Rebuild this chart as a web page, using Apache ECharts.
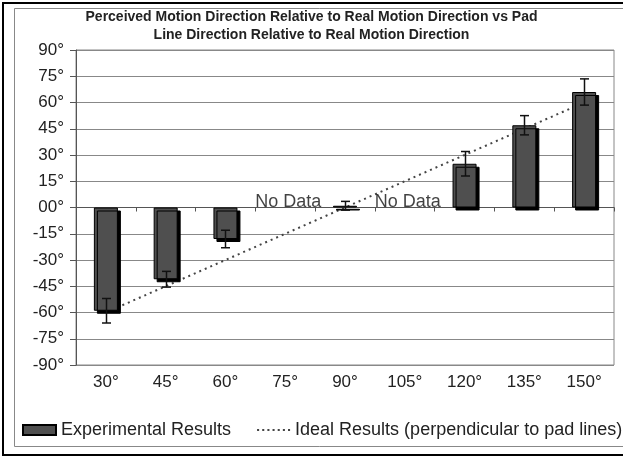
<!DOCTYPE html>
<html>
<head>
<meta charset="utf-8">
<script src="https://cdn.jsdelivr.net/npm/echarts@6/dist/echarts.min.js"></script>
<style>
  html, body { margin: 0; padding: 0; background: #fff; }
  #chart { width: 623px; height: 458px; }
</style>
</head>
<body>
<div id="chart"></div>
<script>
// Pad line direction relative to real motion direction (categories)
const angles = ['30°', '45°', '60°', '75°', '90°', '105°', '120°', '135°', '150°'];
// Mean perceived direction (degrees); null where no data was collected
const experimental = [-59, -41, -18, null, 1, null, 25, 47, 66];
// Half-length of the error bars (degrees)
const errorMargin = [7, 4.5, 5, null, 2.5, null, 7, 5.5, 7.5];
// Direction perpendicular to the pad lines
const ideal = [-60, -45, -30, -15, 0, 15, 30, 45, 60];
// Categories without measurements
const noDataAngles = ['75°', '105°'];
const noDataLabel = 'No Data';

const titleText = 'Perceived Motion Direction Relative to Real Motion Direction vs Pad\nLine Direction Relative to Real Motion Direction';
const expName = 'Experimental Results';
const idealName = 'Ideal Results (perpendicular to pad lines)';

const FONT = 'Liberation Sans, Arial, sans-serif';

// Dotted swatch for the ideal-line legend entry
const dottedIcon = 'path://M0,0h2v2h-2z M5,0h2v2h-2z M10,0h2v2h-2z M15,0h2v2h-2z M20,0h2v2h-2z M25,0h2v2h-2z M30,0h2v2h-2z';

const errorData = [];
experimental.forEach((v, i) => {
  if (v !== null && errorMargin[i] !== null) {
    errorData.push([i, v - errorMargin[i], v + errorMargin[i]]);
  }
});

const chart = echarts.init(document.getElementById('chart'), null, { renderer: 'canvas' });

chart.setOption({
  animation: false,
  backgroundColor: '#fff',
  title: {
    text: titleText,
    left: 'center',
    top: 8,
    padding: 0,
    textStyle: {
      fontFamily: FONT,
      fontSize: 14,
      fontWeight: 'bold',
      color: '#222',
      lineHeight: 18
    }
  },
  graphic: [
    { type: 'rect', shape: { x: 3, y: 3, width: 700, height: 452 }, style: { fill: 'none', stroke: '#000', lineWidth: 2 }, silent: true, z: -1 },
    { type: 'rect', shape: { x: 14.5, y: 8.5, width: 700, height: 438 }, style: { fill: 'none', stroke: '#888', lineWidth: 1 }, silent: true, z: -1 }
  ],
  legend: {
    left: 22,
    top: 421,
    padding: 0,
    itemWidth: 33,
    itemHeight: 10,
    itemGap: 26,
    textStyle: { fontFamily: FONT, fontSize: 18, color: '#222' },
    data: [
      { name: expName, icon: 'rect', itemStyle: { shadowOffsetX: 0, shadowOffsetY: 0, shadowColor: 'transparent' } },
      { name: idealName, icon: dottedIcon, itemStyle: { color: '#444' } }
    ]
  },
  grid: {
    left: 76,
    top: 50,
    width: 538,
    height: 315,
    show: true,
    borderColor: '#888',
    borderWidth: 1,
    backgroundColor: 'transparent'
  },
  xAxis: [
    {
      type: 'category',
      data: angles,
      position: 'bottom',
      axisLine: { show: false, onZero: false },
      axisTick: { show: false },
      axisLabel: { fontFamily: FONT, fontSize: 17, color: '#222', margin: 9 }
    },
    {
      type: 'category',
      data: angles,
      position: 'bottom',
      axisLine: { show: true, onZero: true, lineStyle: { color: '#555', width: 1 } },
      axisTick: { show: true, inside: false, length: 4, lineStyle: { color: '#555' } },
      axisLabel: { show: false }
    }
  ],
  yAxis: {
    type: 'value',
    min: -90,
    max: 90,
    interval: 15,
    axisLine: { show: true, lineStyle: { color: '#555', width: 1 } },
    axisTick: { show: true, length: 6, lineStyle: { color: '#555' } },
    splitLine: { show: true, lineStyle: { color: '#888', width: 1 } },
    axisLabel: {
      fontFamily: FONT,
      fontSize: 17,
      color: '#222',
      margin: 12,
      formatter: v => (v === 0 ? '00' : String(v)) + '°'
    }
  },
  series: [
    {
      name: idealName,
      type: 'line',
      data: ideal,
      symbol: 'none',
      z: 1,
      lineStyle: { color: '#444', width: 2, type: [2, 4] },
      itemStyle: { color: '#444' }
    },
    {
      name: expName,
      type: 'bar',
      data: experimental,
      barWidth: 24,
      z: 3,
      itemStyle: {
        color: '#4f4f4f',
        borderColor: '#000',
        borderWidth: 1,
        shadowColor: '#000',
        shadowOffsetX: 3,
        shadowOffsetY: 3,
        shadowBlur: 0
      }
    },
    {
      name: 'error',
      type: 'custom',
      z: 4,
      data: errorData,
      renderItem: function (params, api) {
        const i = api.value(0);
        const lo = api.coord([i, api.value(1)]);
        const hi = api.coord([i, api.value(2)]);
        const x = Math.round(lo[0]) + 0.5;
        const cap = 4.5;
        const style = { stroke: '#111', lineWidth: 1.5 };
        return {
          type: 'group',
          children: [
            { type: 'line', shape: { x1: x, y1: hi[1], x2: x, y2: lo[1] }, style },
            { type: 'line', shape: { x1: x - cap, y1: hi[1], x2: x + cap, y2: hi[1] }, style },
            { type: 'line', shape: { x1: x - cap, y1: lo[1], x2: x + cap, y2: lo[1] }, style }
          ]
        };
      }
    },
    {
      name: 'noData',
      type: 'scatter',
      data: noDataAngles.map(a => [a, 0]),
      symbolSize: 0,
      z: 5,
      silent: true,
      label: {
        show: true,
        position: 'top',
        distance: 1,
        offset: [3, 5],
        formatter: noDataLabel,
        fontFamily: FONT,
        fontSize: 18,
        color: '#111'
      }
    }
  ]
});
</script>
</body>
</html>
